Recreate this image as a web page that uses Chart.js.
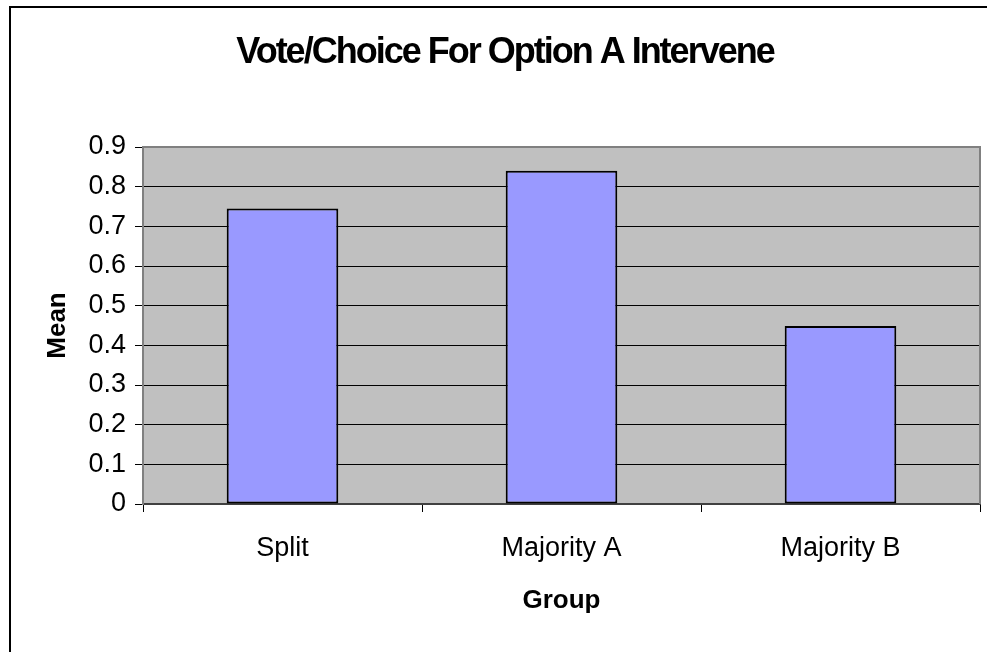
<!DOCTYPE html>
<html>
<head>
<meta charset="utf-8">
<script src="https://cdn.jsdelivr.net/npm/chart.js@4/dist/chart.umd.min.js"></script>
<style>
  html, body { margin: 0; padding: 0; background: #ffffff; }
  #wrap { width: 987px; height: 652px; position: relative; }
</style>
</head>
<body>
<div id="wrap"><canvas id="c" width="987" height="652"></canvas></div>
<script>
const chartTitle = 'Vote/Choice For Option A Intervene';
const categories = ['Split', 'Majority A', 'Majority B'];
const meanValues = [0.745, 0.84, 0.449];
const yTickLabels = ['0', '0.1', '0.2', '0.3', '0.4', '0.5', '0.6', '0.7', '0.8', '0.9'];
const xAxisTitle = 'Group';
const yAxisTitle = 'Mean';

const FONT = "'Liberation Sans', Arial, sans-serif";

const plotDecor = {
  id: 'plotDecor',
  beforeDraw(chart) {
    const { ctx, chartArea: a } = chart;
    const tb = chart.titleBlock;
    if (tb && !tb._condensed) {
      const orig = tb.draw.bind(tb);
      tb.draw = function (area) {
        ctx.save();
        if ('letterSpacing' in ctx) ctx.letterSpacing = '-2px';
        orig(area);
        ctx.restore();
      };
      tb._condensed = true;
    }
    ctx.save();
    ctx.fillStyle = '#C0C0C0';
    ctx.fillRect(a.left, a.top, a.right - a.left, a.bottom - a.top);
    ctx.restore();
  },
  beforeDatasetsDraw(chart) {
    const { ctx, chartArea: a } = chart;
    ctx.save();
    ctx.strokeStyle = '#808080';
    ctx.lineWidth = 2;
    ctx.beginPath();
    ctx.moveTo(a.left, a.bottom);
    ctx.lineTo(a.left, a.top);
    ctx.lineTo(a.right, a.top);
    ctx.lineTo(a.right, a.bottom);
    ctx.stroke();
    ctx.restore();
  },
  afterDraw(chart) {
    const { ctx } = chart;
    ctx.save();
    ctx.strokeStyle = '#000000';
    ctx.lineWidth = 2;
    ctx.beginPath();
    ctx.moveTo(10, 700);
    ctx.lineTo(10, 7);
    ctx.lineTo(1100, 7);
    ctx.stroke();
    ctx.restore();
  }
};

new Chart(document.getElementById('c'), {
  type: 'bar',
  data: {
    labels: categories,
    datasets: [{
      label: yAxisTitle,
      data: meanValues,
      backgroundColor: '#9999FF',
      borderColor: '#000000',
      borderWidth: 2,
      borderSkipped: false,
      barPercentage: 1.0,
      categoryPercentage: 0.4
    }]
  },
  options: {
    responsive: false,
    animation: false,
    devicePixelRatio: 1,
    layout: { padding: { top: 0, right: 7, bottom: 0, left: 30 } },
    plugins: {
      legend: { display: false },
      tooltip: { enabled: false },
      title: {
        display: true,
        text: chartTitle,
        color: '#000000',
        font: { family: FONT, size: 36, weight: 'bold', lineHeight: 1.2 },
        padding: { top: 31.4, bottom: 72.4 }
      }
    },
    scales: {
      x: {
        afterFit(scale) { scale.height = 148; },
        grid: {
          display: true,
          drawOnChartArea: false,
          drawTicks: true,
          tickLength: 8,
          tickColor: '#000000',
          offset: true
        },
        border: { display: true, color: '#404040', width: 2 },
        ticks: {
          color: '#000000',
          font: { family: FONT, size: 27 },
          padding: 20
        },
        title: {
          display: true,
          text: xAxisTitle,
          color: '#000000',
          font: { family: FONT, size: 26, weight: 'bold', lineHeight: 1.2 },
          padding: { top: 0, bottom: 36 }
        }
      },
      y: {
        min: 0,
        max: 0.9,
        afterFit(scale) { scale.width = 113; },
        afterBuildTicks(scale) {
          scale.ticks = yTickLabels.map((t) => ({ value: parseFloat(t) }));
        },
        grid: {
          color: '#000000',
          lineWidth: 1,
          drawTicks: true,
          tickLength: 8,
          tickColor: '#000000'
        },
        border: { display: true, color: '#808080', width: 2 },
        ticks: {
          color: '#000000',
          font: { family: FONT, size: 27 },
          padding: 9,
          callback: (v, i) => yTickLabels[i]
        },
        title: {
          display: true,
          text: yAxisTitle,
          color: '#000000',
          font: { family: FONT, size: 26, weight: 'bold', lineHeight: 1.2 },
          padding: { top: 12, bottom: 0 }
        }
      }
    }
  },
  plugins: [plotDecor]
});
</script>
</body>
</html>
